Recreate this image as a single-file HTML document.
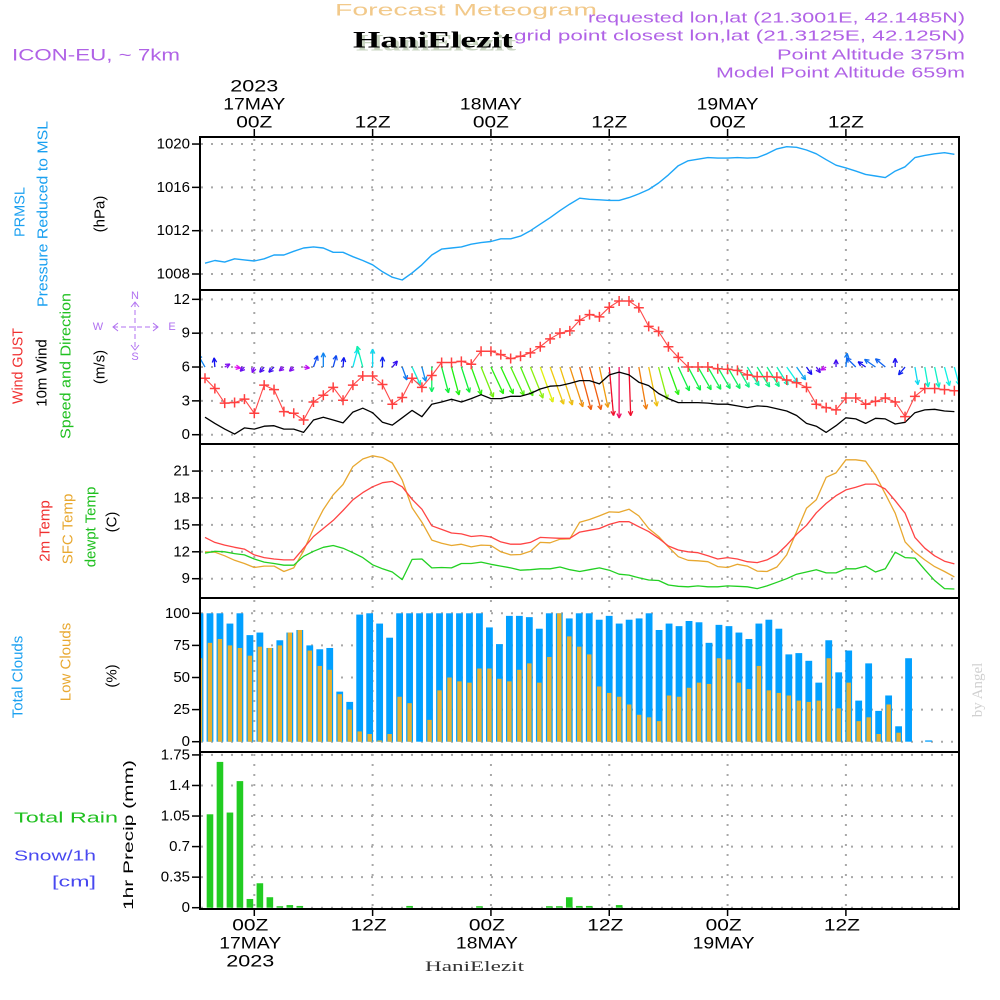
<!DOCTYPE html>
<html><head><meta charset="utf-8"><title>Forecast Meteogram HaniElezit</title>
<style>
html,body{margin:0;padding:0;background:#fff;}
svg{display:block;}
text{font-family:"Liberation Sans",sans-serif;}
</style></head>
<body>
<svg id="chart" width="1000" height="1000" viewBox="0 0 1000 1000" xmlns="http://www.w3.org/2000/svg">
<defs>
<clipPath id="plotclip"><rect x="201" y="137" width="758" height="772"/></clipPath>
</defs>
<text x="335" y="10" dominant-baseline="central" font-size="17" fill="#f2c98a" textLength="262" lengthAdjust="spacingAndGlyphs">Forecast Meteogram</text>
<text x="356" y="43" dominant-baseline="central" font-size="23" font-weight="bold" fill="#c8d4c0" style="font-family:'Liberation Serif',serif" textLength="160" lengthAdjust="spacingAndGlyphs">HaniElezit</text>
<text x="353" y="40" dominant-baseline="central" font-size="23" font-weight="bold" fill="#000" style="font-family:'Liberation Serif',serif" textLength="160" lengthAdjust="spacingAndGlyphs">HaniElezit</text>
<text x="588" y="18" dominant-baseline="central" font-size="15" fill="#b062e6" textLength="377" lengthAdjust="spacingAndGlyphs">requested lon,lat (21.3001E, 42.1485N)</text>
<text x="514" y="36" dominant-baseline="central" font-size="15" fill="#b062e6" textLength="451" lengthAdjust="spacingAndGlyphs">grid point closest lon,lat (21.3125E, 42.125N)</text>
<text x="777" y="55" dominant-baseline="central" font-size="15" fill="#b062e6" textLength="188" lengthAdjust="spacingAndGlyphs">Point Altitude 375m</text>
<text x="716" y="73" dominant-baseline="central" font-size="15" fill="#b062e6" textLength="249" lengthAdjust="spacingAndGlyphs">Model Point Altitude 659m</text>
<text x="12" y="55" dominant-baseline="central" font-size="17" fill="#b062e6" textLength="168" lengthAdjust="spacingAndGlyphs">ICON-EU, ~ 7km</text>

<g font-size="15">
<text transform="translate(20,212) rotate(-90)" text-anchor="middle" dominant-baseline="central" fill="#1aa0f0" textLength="50" lengthAdjust="spacingAndGlyphs">PRMSL</text>
<text transform="translate(43,214) rotate(-90)" text-anchor="middle" dominant-baseline="central" fill="#1aa0f0" textLength="186" lengthAdjust="spacingAndGlyphs">Pressure Reduced to MSL</text>
<text transform="translate(100,214) rotate(-90)" text-anchor="middle" dominant-baseline="central" fill="#000">(hPa)</text>
<text transform="translate(18,366) rotate(-90)" text-anchor="middle" dominant-baseline="central" fill="#f03030" textLength="76" lengthAdjust="spacingAndGlyphs">Wind GUST</text>
<text transform="translate(42,373) rotate(-90)" text-anchor="middle" dominant-baseline="central" fill="#000">10m Wind</text>
<text transform="translate(66,366) rotate(-90)" text-anchor="middle" dominant-baseline="central" fill="#20c020" textLength="146" lengthAdjust="spacingAndGlyphs">Speed and Direction</text>
<text transform="translate(100,367) rotate(-90)" text-anchor="middle" dominant-baseline="central" fill="#000">(m/s)</text>
<text transform="translate(45,531) rotate(-90)" text-anchor="middle" dominant-baseline="central" fill="#f03030">2m Temp</text>
<text transform="translate(68,529) rotate(-90)" text-anchor="middle" dominant-baseline="central" fill="#e8a830">SFC Temp</text>
<text transform="translate(91,527) rotate(-90)" text-anchor="middle" dominant-baseline="central" fill="#20c020">dewpt Temp</text>
<text transform="translate(112,522) rotate(-90)" text-anchor="middle" dominant-baseline="central" fill="#000">(C)</text>
<text transform="translate(18,677) rotate(-90)" text-anchor="middle" dominant-baseline="central" fill="#1aa0f0">Total Clouds</text>
<text transform="translate(66,662) rotate(-90)" text-anchor="middle" dominant-baseline="central" fill="#e8a830">Low Clouds</text>
<text transform="translate(112,676) rotate(-90)" text-anchor="middle" dominant-baseline="central" fill="#000">(%)</text>
<text transform="translate(128,835) rotate(-90)" text-anchor="middle" dominant-baseline="central" font-size="14" fill="#000" textLength="150" lengthAdjust="spacingAndGlyphs">1hr Precip (mm)</text>
<text x="14" y="818" dominant-baseline="central" fill="#20c020" textLength="104" lengthAdjust="spacingAndGlyphs">Total  Rain</text>
<text x="14" y="856" dominant-baseline="central" fill="#4848f0" textLength="82" lengthAdjust="spacingAndGlyphs">Snow/1h</text>
<text x="52" y="882" dominant-baseline="central" fill="#4848f0" textLength="44" lengthAdjust="spacingAndGlyphs">[cm]</text>
</g>
<g stroke="#b070f0" fill="#b070f0" font-size="11">
<line x1="135" y1="302" x2="135" y2="350" stroke-dasharray="5,3"/>
<line x1="113" y1="327" x2="158" y2="327" stroke-dasharray="5,3"/>
<text x="135" y="296" text-anchor="middle" dominant-baseline="central" stroke="none">N</text>
<text x="135" y="357" text-anchor="middle" dominant-baseline="central" stroke="none">S</text>
<text x="98" y="327" text-anchor="middle" dominant-baseline="central" stroke="none">W</text>
<text x="172" y="327" text-anchor="middle" dominant-baseline="central" stroke="none">E</text>
<polyline points="131,307 135,302 139,307" fill="none"/>
<polyline points="131,345 135,350 139,345" fill="none"/>
<polyline points="118,323 113,327 118,331" fill="none"/>
<polyline points="153,323 158,327 153,331" fill="none"/>
</g>
<text transform="translate(978,690) rotate(-90)" text-anchor="middle" dominant-baseline="central" font-size="15" fill="#d0d0d0" style="font-family:'Liberation Serif',serif">by Angel</text>
<text x="425" y="967" dominant-baseline="central" font-size="15" fill="#333" style="font-family:'Liberation Serif',serif" textLength="99" lengthAdjust="spacingAndGlyphs">HaniElezit</text>

<g id="grid"></g>
<g id="marks" clip-path="url(#plotclip)"></g>
<g id="axes"></g>
</svg>
<script>
const lineStartHour = -5;
const pressure = [1009.0,1009.25,1009.1,1009.4,1009.3,1009.2,1009.4,1009.75,1009.75,1010.1,1010.4,1010.5,1010.4,1010.0,1010.0,1009.6,1009.25,1008.85,1008.2,1007.7,1007.45,1008.1,1008.85,1009.75,1010.3,1010.4,1010.5,1010.75,1010.9,1011.0,1011.25,1011.25,1011.5,1012.0,1012.6,1013.2,1013.85,1014.45,1015.0,1014.9,1014.85,1014.8,1014.8,1015.05,1015.4,1015.8,1016.4,1017.15,1018.0,1018.45,1018.6,1018.75,1018.7,1018.7,1018.75,1018.7,1018.75,1019.1,1019.55,1019.75,1019.7,1019.45,1019.1,1018.55,1018.05,1017.8,1017.5,1017.2,1017.05,1016.9,1017.5,1017.9,1018.75,1018.95,1019.1,1019.2,1019.05];
const windGust = [5.0,4.1,2.8,2.85,3.15,1.9,4.4,4.0,2.05,1.9,1.3,2.9,3.5,4.2,3.05,4.4,5.2,5.2,4.45,2.7,3.3,5.0,4.2,5.25,6.4,6.4,6.5,6.25,7.4,7.4,7.1,6.75,6.95,7.25,7.8,8.5,9.0,9.2,10.15,10.65,10.45,11.3,11.85,11.85,11.25,9.6,9.15,7.8,6.85,6.0,6.0,6.0,5.85,5.8,5.7,5.3,5.15,5.15,5.1,4.85,4.6,4.2,2.7,2.4,2.2,3.25,3.25,2.7,2.95,3.25,2.9,1.6,3.4,4.1,4.1,4.0,3.9];
const wind10m = [1.55,1.0,0.5,0.05,0.6,0.5,0.75,0.8,0.5,0.5,0.2,1.3,1.55,1.3,1.05,2.0,2.35,1.95,1.1,0.85,1.5,2.15,1.6,2.7,2.9,3.15,2.9,3.2,3.55,3.2,3.2,3.4,3.4,3.65,4.05,4.3,4.35,4.55,4.8,4.8,4.5,5.3,5.55,5.3,4.65,4.35,3.65,3.2,2.85,2.85,2.85,2.8,2.7,2.7,2.55,2.4,2.55,2.5,2.3,2.1,1.7,1.0,0.75,0.2,0.8,1.5,1.4,1.0,1.45,1.4,0.95,1.1,1.95,2.2,2.25,2.1,2.05];
const windDir = [-30,-5,60,100,225,200,220,225,230,225,100,20,0,15,5,15,-15,0,0,40,160,155,165,180,165,165,162,160,158,155,155,155,157,158,160,160,162,162,165,165,168,175,180,178,170,168,165,160,155,152,150,150,150,150,150,148,148,148,148,145,145,145,145,240,0,5,-45,-55,-55,-50,0,220,170,170,168,165,165];
const temp2m = [13.6,13.05,12.75,12.5,12.3,11.65,11.35,11.2,11.1,11.1,12.4,13.7,14.6,15.5,16.6,17.8,18.6,19.25,19.7,19.85,19.25,17.85,16.75,14.9,14.5,14.1,14.0,13.7,13.8,13.65,13.1,12.85,12.85,13.05,13.6,13.55,13.5,13.5,14.2,14.4,14.6,15.05,15.35,15.35,14.8,14.25,13.5,12.65,12.2,12.0,11.9,11.55,11.2,11.35,11.2,10.9,10.8,11.1,11.7,12.75,13.95,14.95,16.35,17.4,18.25,18.9,19.2,19.55,19.55,19.0,17.7,16.3,13.6,12.4,11.55,10.95,10.65];
const tempSfc = [12.0,11.95,11.55,11.05,10.7,10.25,10.4,10.4,9.8,10.2,12.1,14.6,16.7,18.35,19.5,21.5,22.35,22.7,22.5,21.9,20.0,16.9,15.3,13.3,12.95,12.7,12.85,12.55,12.75,12.7,12.0,11.65,11.7,12.05,13.05,13.0,13.4,13.45,15.3,15.6,16.0,16.45,16.4,16.75,16.0,14.6,13.7,12.55,11.45,11.05,11.0,10.9,10.35,10.25,10.6,10.4,9.85,9.8,10.3,11.65,14.25,16.85,17.8,20.3,20.8,22.25,22.25,22.1,20.55,18.45,16.3,13.1,11.95,11.1,10.35,9.8,9.2];
const tempDew = [11.85,12.05,12.0,11.8,11.65,11.2,10.85,10.7,10.5,10.5,11.5,12.05,12.5,12.7,12.4,11.9,11.35,10.55,10.1,9.75,8.9,11.15,11.2,10.2,10.25,10.2,10.7,10.7,10.85,10.6,10.4,10.2,9.95,10.0,10.1,10.1,10.3,10.0,9.8,10.0,10.2,9.95,9.5,9.4,9.1,8.85,8.8,8.3,8.15,8.1,8.2,8.1,8.1,8.2,8.15,8.1,7.9,8.2,8.6,9.0,9.5,9.75,10.0,9.65,9.65,10.1,10.1,10.4,9.75,10.1,11.95,11.35,11.3,10.0,8.8,7.9,7.85];
const totalClouds = [100,100,100,92,100,83,85,73,79,85,87,75,72,73,39,31,99,100,92,81,100,100,100,100,100,100,100,100,100,89,76,98,98,97,88,100,100,96,100,100,95,98,92,95,96,100,87,92,90,94,93,77,91,90,85,80,92,95,88,68,69,63,46,79,54,71,32,61,24,36,12,65,0,1,0,0,0];
const lowClouds = [65,77,80,75,73,67,74,73,75,85,87,71,59,56,37,25,8,6,1,6,35,30,0,17,40,50,47,46,57,57,49,47,56,61,46,66,100,82,74,68,43,38,35,29,21,19,16,36,35,42,46,45,65,64,46,41,59,40,38,36,32,31,32,65,26,46,16,19,6,29,7,0,0,0,0,0,0];
const precip = [0,1.07,1.67,1.09,1.45,0.10,0.28,0.12,0.01,0.03,0.02,0,0,0,0,0,0,0,0,0,0,0.02,0,0,0,0,0,0,0.01,0,0,0,0,0,0,0.01,0.01,0.12,0.02,0.02,0,0,0.03,0,0,0,0,0,0,0,0,0,0,0,0,0,0,0,0,0,0,0,0,0,0,0,0,0,0,0,0,0,0,0,0,0,0];
const timeTickHours = [0,12,24,36,48,60];
const timeTickLabels = ["00Z","12Z","00Z","12Z","00Z","12Z"];
const dateLabels = ["17MAY","","18MAY","","19MAY",""];
const pressureTicks = [1008,1012,1016,1020];
const windTicks = [0,3,6,9,12];
const tempTicks = [9,12,15,18,21];
const cloudTicks = [0,25,50,75,100];
const precipTicks = [0,0.35,0.7,1.05,1.4,1.75];
const precipTickLabels = ["0","0.35","0.7","1.05","1.4","1.75"];

const xH = h => 254.3 + 9.86*h;
const xL = i => xH(lineStartHour + i);
const xB = i => 200 + 9.98*i;
const yP = p => 274 - (p-1008)*10.83;
const yW = v => 434.7 - v*11.28;
const yT = t => 578.7 - (t-9)*8.97;
const yC = c => 741.7 - c*1.284;
const yR = r => 907.7 - r*87.3;

const NS = "http://www.w3.org/2000/svg";
function mk(tag, parent, attrs){
  const e = document.createElementNS(NS, tag);
  for (const k in attrs) e.setAttribute(k, attrs[k]);
  parent.appendChild(e);
  return e;
}
const grid = document.getElementById('grid');
const marks = document.getElementById('marks');
const axes = document.getElementById('axes');

const panels = [
  {name:'pressure', top:137, bot:290, ticks:pressureTicks, labels:pressureTicks.map(String), y:yP},
  {name:'wind', top:290, bot:444, ticks:windTicks, labels:windTicks.map(String), y:yW},
  {name:'temperature', top:444, bot:598, ticks:tempTicks, labels:tempTicks.map(String), y:yT},
  {name:'clouds', top:598, bot:752, ticks:cloudTicks, labels:cloudTicks.map(String), y:yC},
  {name:'precip', top:752, bot:909, ticks:precipTicks, labels:precipTickLabels, y:yR}
];

panels.forEach(p => {
  p.ticks.forEach((t, k) => {
    const y = p.y(t);
    const gl = mk('line', grid, {x1:201, x2:959, y1:y, y2:y, stroke:'#a8a8a8', 'stroke-width':2, 'stroke-dasharray':'2,8'});
    
    
    const tk = mk('line', axes, {x1:192, x2:200, y1:y, y2:y, stroke:'#000', 'stroke-width':1.5});
    
    
    const lb = mk('text', axes, {x:190, y:y, 'text-anchor':'end', 'dominant-baseline':'central', 'font-size':15, fill:'#000'});
    lb.textContent = p.labels[k];
    
    
  });
  timeTickHours.forEach(h => {
    const vl = mk('line', grid, {x1:xH(h), x2:xH(h), y1:p.top+2, y2:p.bot-2, stroke:'#a8a8a8', 'stroke-width':2, 'stroke-dasharray':'2,8'});
    
    
  });
  const fr = mk('rect', axes, {x:200, y:p.top, width:759, height:p.bot-p.top, fill:'none', stroke:'#000', 'stroke-width':2});
  
  
});

timeTickHours.forEach((h, k) => {
  const x = xH(h);
  const tt = mk('line', axes, {x1:x, x2:x, y1:129, y2:137, stroke:'#000', 'stroke-width':1.5});
  
  
  const bt = mk('line', axes, {x1:x, x2:x, y1:909, y2:916, stroke:'#000', 'stroke-width':1.5});
  
  
  const t1 = mk('text', axes, {x:x, y:122, 'text-anchor':'middle', 'dominant-baseline':'central', 'font-size':17, fill:'#000', textLength:36, lengthAdjust:'spacingAndGlyphs'});
  t1.textContent = timeTickLabels[k];
  
  
  const t2 = mk('text', axes, {x:x-4, y:925, 'text-anchor':'middle', 'dominant-baseline':'central', 'font-size':17, fill:'#000', textLength:36, lengthAdjust:'spacingAndGlyphs'});
  t2.textContent = timeTickLabels[k];
  
  
  if (dateLabels[k]) {
    const d1 = mk('text', axes, {x:x, y:104, 'text-anchor':'middle', 'dominant-baseline':'central', 'font-size':17, fill:'#000', textLength:62, lengthAdjust:'spacingAndGlyphs'});
    d1.textContent = dateLabels[k];
    
    
    const d2 = mk('text', axes, {x:x-4, y:943, 'text-anchor':'middle', 'dominant-baseline':'central', 'font-size':17, fill:'#000', textLength:62, lengthAdjust:'spacingAndGlyphs'});
    d2.textContent = dateLabels[k];
    
    
  }
});
const yr1 = mk('text', axes, {x:xH(0), y:86, 'text-anchor':'middle', 'dominant-baseline':'central', 'font-size':17, fill:'#000', textLength:48, lengthAdjust:'spacingAndGlyphs'});
yr1.textContent = '2023';


const yr2 = mk('text', axes, {x:xH(0)-4, y:961, 'text-anchor':'middle', 'dominant-baseline':'central', 'font-size':17, fill:'#000', textLength:48, lengthAdjust:'spacingAndGlyphs'});
yr2.textContent = '2023';



function poly(arr, yf, color, width, name){
  const pts = arr.map((v,i) => xL(i).toFixed(1) + ',' + yf(v).toFixed(1)).join(' ');
  const pl = mk('polyline', marks, {points:pts, fill:'none', stroke:color, 'stroke-width':width, 'stroke-linejoin':'round'});
  
  
  return pl;
}

poly(pressure, yP, '#1ea6f8', 1.4, 'pressure-line');

const baseY = yW(6);
windDir.forEach((d, i) => {
  const s = wind10m[i];
  const len = Math.max(6, s*9.2);
  const a = d*Math.PI/180;
  const x0 = xL(i), y0 = baseY;
  const x1 = x0 + len*Math.sin(a), y1 = y0 - len*Math.cos(a);
  let hue = (299 - 58*s); hue = ((hue % 360) + 360) % 360;
  const col = 'hsl(' + hue.toFixed(0) + ',88%,50%)';
  const g = mk('g', marks, {stroke:col, 'stroke-width':1.3, fill:'none'});
  
  
  mk('line', g, {x1:x0, y1:y0, x2:x1, y2:y1});
  const hl = 5;
  [0.45, -0.45].forEach(off => {
    const b = a + Math.PI + off;
    mk('line', g, {x1:x1, y1:y1, x2:x1 + hl*Math.sin(b), y2:y1 - hl*Math.cos(b)});
  });
});

poly(wind10m, yW, '#000', 1.3, 'wind-10m-line');
poly(windGust, yW, '#ff4a4a', 1.1, 'wind-gust-line');
windGust.forEach((v, i) => {
  const x = xL(i), y = yW(v);
  const m = mk('path', marks, {d:'M'+(x-5)+','+y+'H'+(x+5)+'M'+x+','+(y-5)+'V'+(y+5), stroke:'#ff4040', 'stroke-width':1.5});
  
  
});

poly(tempSfc, yT, '#e8a830', 1.3, 'sfc-temp-line');
poly(temp2m, yT, '#ff4444', 1.3, '2m-temp-line');
poly(tempDew, yT, '#22d022', 1.3, 'dewpt-temp-line');

totalClouds.forEach((v, i) => {
  if (v <= 0) return;
  const r = mk('rect', marks, {x:xB(i)-3.4, y:yC(v), width:6.8, height:yC(0)-yC(v), fill:'#02a0ff'});
  
  
});
lowClouds.forEach((v, i) => {
  if (v <= 0) return;
  const r = mk('rect', marks, {x:xB(i)-2.2, y:yC(v), width:4.4, height:yC(0)-yC(v), fill:'#e8b030'});
  
  
});

precip.forEach((v, i) => {
  if (v <= 0) return;
  const h = Math.max(1.5, yR(0)-yR(v));
  const r = mk('rect', marks, {x:xB(i)-3.3, y:yR(0)-h, width:6.6, height:h, fill:'#22cc22'});
  
  
});
</script>
</body></html>
